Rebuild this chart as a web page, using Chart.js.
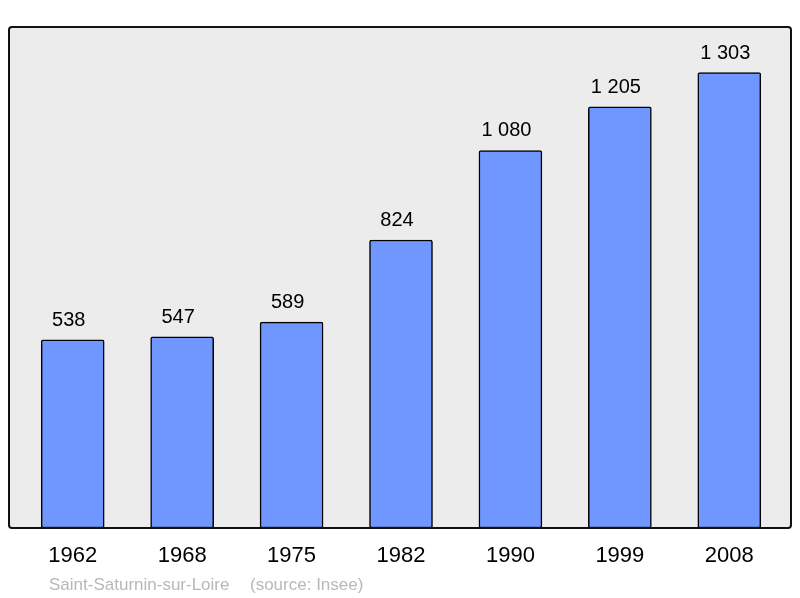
<!DOCTYPE html>
<html>
<head>
<meta charset="utf-8">
<script src="https://cdn.jsdelivr.net/npm/chart.js@4/dist/chart.umd.min.js"></script>
<style>
html,body{margin:0;padding:0;background:#fff;}
#wrap{width:800px;height:598px;position:relative;}
</style>
</head>
<body>
<div id="wrap"><canvas id="c" width="800" height="598"></canvas></div>
<script>
const years = ["1962","1968","1975","1982","1990","1999","2008"];
const population = [538, 547, 589, 824, 1080, 1205, 1303];
const valueLabels = ["538","547","589","824","1 080","1 205","1 303"];
const footerName = "Saint-Saturnin-sur-Loire";
const footerSource = "(source: Insee)";

const FONT = "'Liberation Sans', Arial, sans-serif";

function roundRect(ctx, x, y, w, h, r) {
  ctx.beginPath();
  ctx.moveTo(x + r, y);
  ctx.lineTo(x + w - r, y);
  ctx.quadraticCurveTo(x + w, y, x + w, y + r);
  ctx.lineTo(x + w, y + h - r);
  ctx.quadraticCurveTo(x + w, y + h, x + w - r, y + h);
  ctx.lineTo(x + r, y + h);
  ctx.quadraticCurveTo(x, y + h, x, y + h - r);
  ctx.lineTo(x, y + r);
  ctx.quadraticCurveTo(x, y, x + r, y);
  ctx.closePath();
}

const decor = {
  id: 'decor',
  beforeDraw(chart) {
    const {ctx, chartArea: a} = chart;
    ctx.save();
    roundRect(ctx, a.left - 9, a.top, (a.right + 7) - (a.left - 9), a.bottom - a.top, 3);
    ctx.fillStyle = '#ececec';
    ctx.fill();
    ctx.restore();
  },
  afterDatasetsDraw(chart) {
    const {ctx, chartArea: a} = chart;
    const xs = chart.scales.x, ys = chart.scales.y;
    ctx.save();
    roundRect(ctx, a.left - 9, a.top, (a.right + 7) - (a.left - 9), a.bottom - a.top, 3);
    ctx.lineWidth = 2;
    ctx.strokeStyle = '#111';
    ctx.stroke();
    ctx.fillStyle = '#000';
    ctx.textAlign = 'center';
    ctx.textBaseline = 'alphabetic';
    ctx.font = '20px ' + FONT;
    population.forEach((v, i) => {
      const x = xs.getPixelForValue(i);
      const y = ys.getPixelForValue(v);
      ctx.fillText(valueLabels[i], x - 4, y - 14);
    });
    ctx.font = '22px ' + FONT;
    ctx.textBaseline = 'middle';
    years.forEach((yr, i) => {
      ctx.fillText(yr, xs.getPixelForValue(i), 556);
    });
    ctx.font = '17px ' + FONT;
    ctx.fillStyle = '#b8b8b8';
    ctx.textAlign = 'left';
    ctx.textBaseline = 'alphabetic';
    ctx.fillText(footerName, 49, 590);
    ctx.fillText(footerSource, 250, 590);
    ctx.restore();
  }
};

new Chart(document.getElementById('c'), {
  type: 'bar',
  data: {
    labels: years,
    datasets: [{
      data: population,
      backgroundColor: '#7097ff',
      borderColor: '#000',
      borderWidth: 1.5,
      borderRadius: 2,
      borderSkipped: false,
      barThickness: 63
    }]
  },
  options: {
    responsive: false,
    animation: false,
    devicePixelRatio: 1,
    layout: {padding: {left: 18, right: 16, top: 27, bottom: 70}},
    plugins: {legend: {display: false}, tooltip: {enabled: false}},
    scales: {
      x: {display: false, offset: true},
      y: {display: false, min: 0, max: 1433.3}
    }
  },
  plugins: [decor]
});
</script>
</body>
</html>
